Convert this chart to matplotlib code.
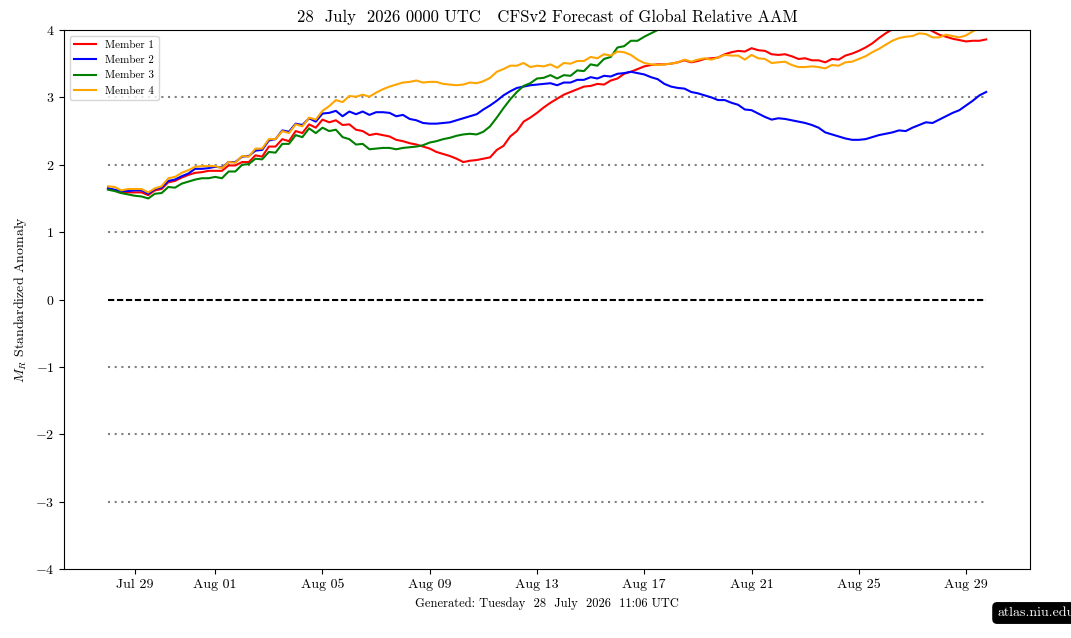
import numpy as np
import matplotlib
matplotlib.use("Agg")
import matplotlib.pyplot as plt
import matplotlib.dates as mdates

plt.rcParams['font.family'] = 'serif'
plt.rcParams['font.serif'] = ['cmr10']
plt.rcParams['mathtext.fontset'] = 'cm'
plt.rcParams['axes.formatter.use_mathtext'] = True

# 6-hourly forecast steps, 28 Jul 2026 00Z -> 29 Aug 2026 18Z
times = np.arange(np.datetime64('2026-07-28T00'), np.datetime64('2026-08-30T00'),
                  np.timedelta64(6, 'h'))

member1 = [1.65, 1.62, 1.58, 1.59, 1.59, 1.59, 1.55, 1.62, 1.64, 1.74,
           1.76, 1.81, 1.85, 1.88, 1.89, 1.91, 1.91, 1.91, 1.99, 1.99,
           2.04, 2.04, 2.14, 2.12, 2.27, 2.27, 2.38, 2.35, 2.50, 2.47,
           2.60, 2.55, 2.67, 2.63, 2.66, 2.59, 2.60, 2.52, 2.50, 2.44,
           2.46, 2.44, 2.42, 2.37, 2.35, 2.32, 2.30, 2.27, 2.24, 2.19,
           2.16, 2.13, 2.09, 2.04, 2.06, 2.07, 2.09, 2.11, 2.22, 2.28,
           2.42, 2.50, 2.64, 2.70, 2.77, 2.85, 2.92, 2.98, 3.04, 3.08,
           3.12, 3.16, 3.17, 3.20, 3.19, 3.25, 3.28, 3.35, 3.38, 3.42,
           3.46, 3.48, 3.49, 3.49, 3.50, 3.52, 3.55, 3.52, 3.54, 3.57,
           3.58, 3.59, 3.64, 3.67, 3.69, 3.68, 3.73, 3.70, 3.69, 3.64,
           3.63, 3.64, 3.61, 3.57, 3.58, 3.55, 3.55, 3.52, 3.57, 3.56,
           3.62, 3.65, 3.69, 3.74, 3.80, 3.88, 3.95, 4.01, 4.05, 4.08,
           4.09, 4.08, 4.04, 3.98, 3.93, 3.90, 3.87, 3.85, 3.83, 3.84,
           3.84, 3.86]

member2 = [1.65, 1.63, 1.61, 1.61, 1.62, 1.62, 1.57, 1.64, 1.66, 1.76,
           1.78, 1.83, 1.87, 1.94, 1.94, 1.95, 1.97, 1.96, 2.04, 2.04,
           2.12, 2.13, 2.21, 2.22, 2.36, 2.38, 2.51, 2.49, 2.61, 2.59,
           2.69, 2.64, 2.76, 2.77, 2.80, 2.72, 2.79, 2.75, 2.79, 2.74,
           2.78, 2.78, 2.77, 2.72, 2.74, 2.68, 2.66, 2.62, 2.61, 2.61,
           2.62, 2.63, 2.66, 2.69, 2.72, 2.75, 2.82, 2.88, 2.95, 3.03,
           3.09, 3.14, 3.16, 3.18, 3.19, 3.20, 3.21, 3.18, 3.22, 3.22,
           3.26, 3.26, 3.30, 3.28, 3.32, 3.31, 3.35, 3.36, 3.38, 3.36,
           3.34, 3.30, 3.27, 3.20, 3.16, 3.14, 3.13, 3.08, 3.06, 3.03,
           3.00, 2.96, 2.96, 2.92, 2.89, 2.82, 2.81, 2.76, 2.71, 2.67,
           2.69, 2.68, 2.66, 2.64, 2.62, 2.59, 2.55, 2.48, 2.45, 2.42,
           2.39, 2.37, 2.37, 2.38, 2.41, 2.44, 2.46, 2.48, 2.51, 2.50,
           2.55, 2.59, 2.63, 2.62, 2.67, 2.72, 2.77, 2.81, 2.88, 2.95,
           3.03, 3.08]

# member 3 leaves the top of the plot after Aug 17; the tail is a rough guess
member3 = [1.63, 1.61, 1.58, 1.56, 1.54, 1.53, 1.50, 1.57, 1.58, 1.67,
           1.66, 1.72, 1.75, 1.78, 1.80, 1.80, 1.82, 1.80, 1.90, 1.90,
           2.00, 2.01, 2.09, 2.08, 2.19, 2.18, 2.31, 2.31, 2.44, 2.41,
           2.54, 2.47, 2.55, 2.50, 2.52, 2.41, 2.38, 2.30, 2.31, 2.23,
           2.24, 2.25, 2.25, 2.23, 2.25, 2.26, 2.27, 2.29, 2.33, 2.35,
           2.38, 2.40, 2.43, 2.45, 2.46, 2.45, 2.49, 2.57, 2.70, 2.84,
           2.97, 3.08, 3.17, 3.21, 3.28, 3.29, 3.33, 3.28, 3.33, 3.32,
           3.40, 3.39, 3.49, 3.47, 3.57, 3.60, 3.74, 3.76, 3.84, 3.84,
           3.90, 3.95, 4.00, 4.04, 4.08, 4.12, 4.16, 4.19, 4.22, 4.25,
           4.28, 4.30, 4.33, 4.34, 4.37, 4.38, 4.40, 4.42, 4.42, 4.44,
           4.45, 4.45, 4.47, 4.48, 4.48, 4.50, 4.51, 4.52, 4.52, 4.54,
           4.55, 4.56, 4.56, 4.58, 4.59, 4.60, 4.60, 4.62, 4.63, 4.63,
           4.65, 4.66, 4.66, 4.68, 4.69, 4.70, 4.70, 4.72, 4.73, 4.73,
           4.75, 4.76]

member4 = [1.68, 1.67, 1.62, 1.64, 1.64, 1.64, 1.59, 1.65, 1.68, 1.80,
           1.82, 1.88, 1.92, 1.97, 1.98, 1.98, 1.98, 1.95, 2.04, 2.03,
           2.13, 2.12, 2.24, 2.24, 2.38, 2.38, 2.50, 2.47, 2.60, 2.57,
           2.70, 2.67, 2.80, 2.87, 2.96, 2.93, 3.02, 3.01, 3.04, 3.01,
           3.07, 3.12, 3.16, 3.19, 3.22, 3.23, 3.25, 3.22, 3.23, 3.23,
           3.20, 3.19, 3.18, 3.19, 3.22, 3.21, 3.24, 3.29, 3.38, 3.42,
           3.47, 3.47, 3.51, 3.45, 3.47, 3.46, 3.49, 3.44, 3.51, 3.50,
           3.54, 3.54, 3.60, 3.58, 3.64, 3.62, 3.68, 3.67, 3.63, 3.56,
           3.51, 3.49, 3.48, 3.49, 3.50, 3.52, 3.56, 3.53, 3.56, 3.58,
           3.56, 3.59, 3.63, 3.62, 3.62, 3.56, 3.63, 3.58, 3.57, 3.51,
           3.52, 3.53, 3.48, 3.45, 3.45, 3.46, 3.45, 3.43, 3.48, 3.47,
           3.52, 3.53, 3.57, 3.61, 3.67, 3.72, 3.78, 3.84, 3.88, 3.90,
           3.91, 3.95, 3.94, 3.89, 3.89, 3.93, 3.91, 3.89, 3.92, 3.98,
           4.03, 4.08]

members = [member1, member2, member3, member4]
labels = ['Member 1', 'Member 2', 'Member 3', 'Member 4']
colors = ['red', 'blue', 'green', 'orange']
ref_levels = [-3, -2, -1, 1, 2, 3]

fig = plt.figure(figsize=(10.71, 6.38), dpi=100)
ax = fig.add_axes([0.0598, 0.108, 0.902, 0.845])

for lev in ref_levels:
    ax.plot([times[0], times[-1]], [lev, lev], color='gray', lw=1.5,
            dashes=(1, 2.2), zorder=1)
ax.plot([times[0], times[-1]], [0, 0], color='black', lw=1.5,
        dashes=(3, 1.3), zorder=1)

for vals, lab, col in zip(members, labels, colors):
    ax.plot(times, vals, color=col, lw=1.5, label=lab, zorder=2)

ax.set_ylim(-4, 4)
ax.xaxis.set_major_locator(mdates.DayLocator(bymonthday=[1, 5, 9, 13, 17, 21, 25, 29]))
ax.xaxis.set_major_formatter(mdates.DateFormatter('%b %d'))
ax.tick_params(labelsize=10)
ax.set_ylabel(r'$M_R$ Standardized Anomaly', fontsize=10)
ax.set_title('28  July  2026 0000 UTC   CFSv2 Forecast of Global Relative AAM',
             fontsize=12, pad=6)
ax.legend(loc='upper left', fontsize=8)

fig.text(0.511, 1 - 604 / 638, 'Generated: Tuesday  28  July  2026  11:06 UTC',
         ha='center', va='center', fontsize=9)
fig.text(0.931, 1 - 613 / 638, 'atlas.niu.edu', ha='left', va='center',
         fontsize=10, color='white',
         bbox=dict(boxstyle='round,pad=0.3', fc='black', ec='black'))

fig.savefig('out.png', dpi=100)
